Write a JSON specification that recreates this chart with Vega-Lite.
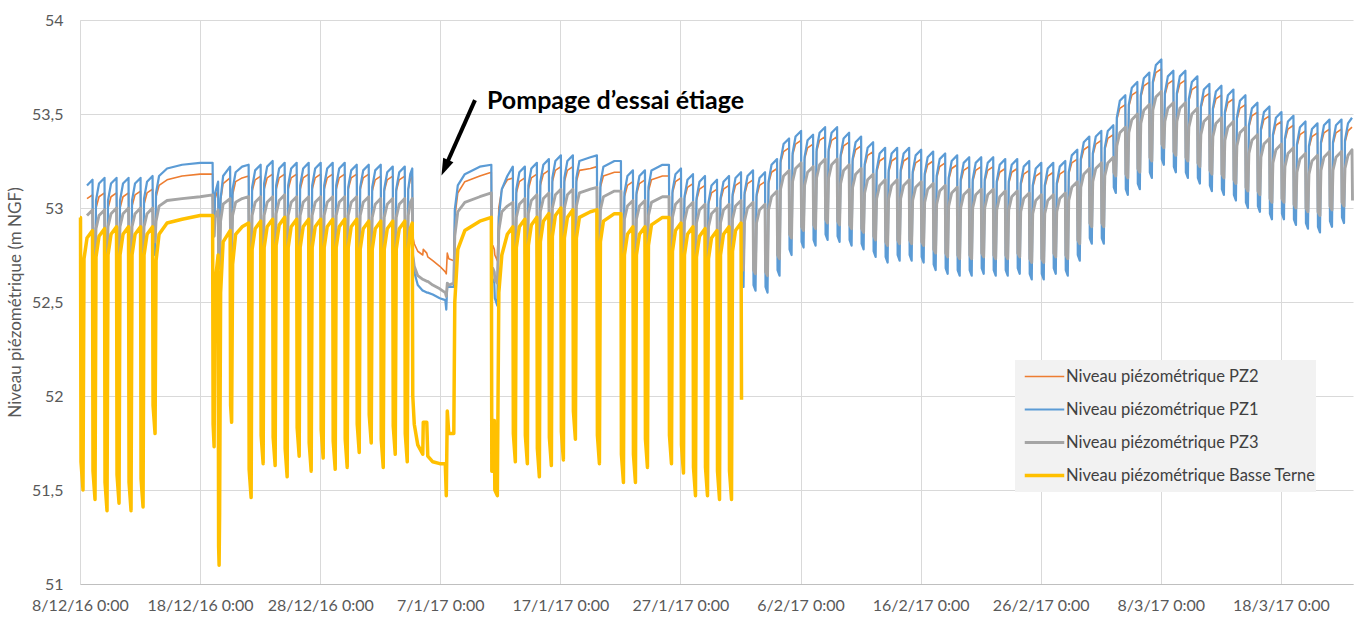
{
"$schema": "https://vega.github.io/schema/vega-lite/v6.json",
"width": 1273, "height": 564,
"autosize": {"type": "none"},
"padding": {"left": 80, "top": 20, "right": 9, "bottom": 33},
"background": "white",
"config": {"view": {"stroke": null}, "font": "Lato"},
"datasets": {"n": [
{"t":"2016-12-08T00:00","y":52.95},
{"t":"2016-12-08T01:00","y":52.95},
{"t":"2016-12-08T02:00","y":51.65},
{"t":"2016-12-08T06:00","y":51.5},
{"t":"2016-12-08T08:00","y":52.73},
{"t":"2016-12-08T14:00","o":53.05,"b":53.12,"g":52.96,"y":52.84},
{"t":"2016-12-09T01:00","o":53.07,"b":53.15,"g":52.99,"y":52.88},
{"t":"2016-12-09T02:00","o":52.77,"b":52.58,"g":52.76,"y":51.6},
{"t":"2016-12-09T06:00","o":52.72,"b":52.53,"g":52.72,"y":51.45},
{"t":"2016-12-09T08:00","o":53.0,"b":53.04,"g":52.89,"y":52.74},
{"t":"2016-12-09T14:00","o":53.06,"b":53.13,"g":52.96,"y":52.85},
{"t":"2016-12-10T01:00","o":53.08,"b":53.16,"g":52.99,"y":52.89},
{"t":"2016-12-10T02:00","o":52.75,"b":52.51,"g":52.74,"y":51.54},
{"t":"2016-12-10T06:00","o":52.7,"b":52.46,"g":52.7,"y":51.39},
{"t":"2016-12-10T08:00","o":53.0,"b":53.04,"g":52.9,"y":52.75},
{"t":"2016-12-10T14:00","o":53.06,"b":53.13,"g":52.97,"y":52.86},
{"t":"2016-12-11T01:00","o":53.08,"b":53.16,"g":53.0,"y":52.9},
{"t":"2016-12-11T02:00","o":52.77,"b":52.56,"g":52.76,"y":51.58},
{"t":"2016-12-11T06:00","o":52.72,"b":52.51,"g":52.72,"y":51.43},
{"t":"2016-12-11T08:00","o":53.0,"b":53.04,"g":52.9,"y":52.75},
{"t":"2016-12-11T14:00","o":53.06,"b":53.13,"g":52.97,"y":52.86},
{"t":"2016-12-12T01:00","o":53.08,"b":53.16,"g":53.0,"y":52.9},
{"t":"2016-12-12T02:00","o":52.75,"b":52.51,"g":52.74,"y":51.54},
{"t":"2016-12-12T06:00","o":52.7,"b":52.46,"g":52.7,"y":51.39},
{"t":"2016-12-12T08:00","o":53.01,"b":53.04,"g":52.9,"y":52.75},
{"t":"2016-12-12T14:00","o":53.07,"b":53.13,"g":52.97,"y":52.86},
{"t":"2016-12-13T01:00","o":53.09,"b":53.16,"g":53.0,"y":52.9},
{"t":"2016-12-13T02:00","o":52.77,"b":52.54,"g":52.76,"y":51.56},
{"t":"2016-12-13T06:00","o":52.72,"b":52.49,"g":52.72,"y":51.41},
{"t":"2016-12-13T08:00","o":53.02,"b":53.05,"g":52.9,"y":52.75},
{"t":"2016-12-13T14:00","o":53.08,"b":53.14,"g":52.97,"y":52.86},
{"t":"2016-12-14T01:00","o":53.1,"b":53.17,"g":53.0,"y":52.9},
{"t":"2016-12-14T02:00","o":52.9,"b":52.8,"g":52.86,"y":51.95},
{"t":"2016-12-14T06:00","o":52.85,"b":52.75,"g":52.82,"y":51.8},
{"t":"2016-12-14T08:00","o":53.06,"b":53.08,"g":52.93,"y":52.72},
{"t":"2016-12-14T14:00","o":53.12,"b":53.17,"g":53.01,"y":52.86},
{"t":"2016-12-15T06:00","o":53.15,"b":53.21,"g":53.04,"y":52.92},
{"t":"2016-12-16T12:00","o":53.17,"b":53.23,"g":53.05,"y":52.94},
{"t":"2016-12-18T00:00","o":53.18,"b":53.24,"g":53.06,"y":52.96},
{"t":"2016-12-19T01:00","o":53.18,"b":53.24,"g":53.07,"y":52.96},
{"t":"2016-12-19T02:00","o":52.95,"b":52.9,"g":52.88,"y":51.85},
{"t":"2016-12-19T04:00","o":52.9,"b":52.85,"g":52.85,"y":51.73},
{"t":"2016-12-19T06:00","o":53.05,"b":53.08,"g":52.95,"y":52.6},
{"t":"2016-12-19T12:00","o":53.1,"b":53.14,"g":52.99,"y":52.75},
{"t":"2016-12-19T13:00","o":52.8,"b":52.75,"g":52.72,"y":51.2},
{"t":"2016-12-19T14:00","o":52.78,"b":52.68,"g":52.68,"y":51.1},
{"t":"2016-12-19T15:00","o":52.8,"b":52.7,"g":52.7,"y":51.38},
{"t":"2016-12-19T17:00","o":53.04,"b":53.05,"g":52.93,"y":52.55},
{"t":"2016-12-19T22:00","o":53.13,"b":53.17,"g":53.02,"y":52.82},
{"t":"2016-12-20T12:00","o":53.16,"b":53.22,"g":53.05,"y":52.88},
{"t":"2016-12-20T13:00","o":52.85,"b":52.75,"g":52.78,"y":51.95},
{"t":"2016-12-20T15:00","o":52.82,"b":52.7,"g":52.75,"y":51.86},
{"t":"2016-12-20T17:00","o":53.07,"b":53.1,"g":52.96,"y":52.7},
{"t":"2016-12-20T23:00","o":53.14,"b":53.19,"g":53.03,"y":52.86},
{"t":"2016-12-21T12:00","o":53.16,"b":53.22,"g":53.05,"y":52.9},
{"t":"2016-12-22T01:00","o":53.17,"b":53.23,"g":53.06,"y":52.92},
{"t":"2016-12-22T02:00","o":52.77,"b":52.6,"g":52.72,"y":51.61},
{"t":"2016-12-22T06:00","o":52.72,"b":52.55,"g":52.68,"y":51.46},
{"t":"2016-12-22T08:00","o":53.09,"b":53.11,"g":52.96,"y":52.78},
{"t":"2016-12-22T14:00","o":53.15,"b":53.2,"g":53.03,"y":52.89},
{"t":"2016-12-23T01:00","o":53.17,"b":53.23,"g":53.06,"y":52.93},
{"t":"2016-12-23T02:00","o":52.8,"b":52.67,"g":52.76,"y":51.79},
{"t":"2016-12-23T06:00","o":52.75,"b":52.62,"g":52.72,"y":51.64},
{"t":"2016-12-23T08:00","o":53.1,"b":53.13,"g":52.96,"y":52.79},
{"t":"2016-12-23T14:00","o":53.16,"b":53.22,"g":53.03,"y":52.9},
{"t":"2016-12-24T01:00","o":53.18,"b":53.25,"g":53.06,"y":52.94},
{"t":"2016-12-24T02:00","o":52.8,"b":52.67,"g":52.76,"y":51.78},
{"t":"2016-12-24T06:00","o":52.75,"b":52.62,"g":52.72,"y":51.63},
{"t":"2016-12-24T08:00","o":53.1,"b":53.12,"g":52.97,"y":52.8},
{"t":"2016-12-24T14:00","o":53.16,"b":53.21,"g":53.04,"y":52.91},
{"t":"2016-12-25T01:00","o":53.18,"b":53.24,"g":53.07,"y":52.95},
{"t":"2016-12-25T02:00","o":52.8,"b":52.65,"g":52.74,"y":51.72},
{"t":"2016-12-25T06:00","o":52.75,"b":52.6,"g":52.7,"y":51.57},
{"t":"2016-12-25T08:00","o":53.1,"b":53.12,"g":52.96,"y":52.79},
{"t":"2016-12-25T14:00","o":53.16,"b":53.21,"g":53.03,"y":52.9},
{"t":"2016-12-26T01:00","o":53.18,"b":53.24,"g":53.06,"y":52.94},
{"t":"2016-12-26T02:00","o":52.8,"b":52.67,"g":52.76,"y":51.83},
{"t":"2016-12-26T06:00","o":52.75,"b":52.62,"g":52.72,"y":51.68},
{"t":"2016-12-26T08:00","o":53.1,"b":53.12,"g":52.96,"y":52.79},
{"t":"2016-12-26T14:00","o":53.16,"b":53.21,"g":53.03,"y":52.9},
{"t":"2016-12-27T01:00","o":53.18,"b":53.24,"g":53.06,"y":52.94},
{"t":"2016-12-27T02:00","o":52.8,"b":52.65,"g":52.74,"y":51.75},
{"t":"2016-12-27T06:00","o":52.75,"b":52.6,"g":52.7,"y":51.6},
{"t":"2016-12-27T08:00","o":53.1,"b":53.12,"g":52.96,"y":52.79},
{"t":"2016-12-27T14:00","o":53.16,"b":53.21,"g":53.03,"y":52.9},
{"t":"2016-12-28T01:00","o":53.18,"b":53.24,"g":53.06,"y":52.94},
{"t":"2016-12-28T02:00","o":52.8,"b":52.68,"g":52.77,"y":51.82},
{"t":"2016-12-28T06:00","o":52.75,"b":52.63,"g":52.73,"y":51.67},
{"t":"2016-12-28T08:00","o":53.1,"b":53.12,"g":52.96,"y":52.79},
{"t":"2016-12-28T14:00","o":53.16,"b":53.21,"g":53.03,"y":52.9},
{"t":"2016-12-29T01:00","o":53.18,"b":53.24,"g":53.06,"y":52.94},
{"t":"2016-12-29T02:00","o":52.8,"b":52.65,"g":52.74,"y":51.76},
{"t":"2016-12-29T06:00","o":52.75,"b":52.6,"g":52.7,"y":51.61},
{"t":"2016-12-29T08:00","o":53.1,"b":53.12,"g":52.96,"y":52.79},
{"t":"2016-12-29T14:00","o":53.16,"b":53.21,"g":53.03,"y":52.9},
{"t":"2016-12-30T01:00","o":53.18,"b":53.24,"g":53.06,"y":52.94},
{"t":"2016-12-30T02:00","o":52.8,"b":52.67,"g":52.76,"y":51.77},
{"t":"2016-12-30T06:00","o":52.75,"b":52.62,"g":52.72,"y":51.62},
{"t":"2016-12-30T08:00","o":53.1,"b":53.11,"g":52.96,"y":52.79},
{"t":"2016-12-30T14:00","o":53.16,"b":53.2,"g":53.03,"y":52.9},
{"t":"2016-12-31T01:00","o":53.18,"b":53.23,"g":53.06,"y":52.94},
{"t":"2016-12-31T02:00","o":52.8,"b":52.67,"g":52.76,"y":51.85},
{"t":"2016-12-31T06:00","o":52.75,"b":52.62,"g":52.72,"y":51.7},
{"t":"2016-12-31T08:00","o":53.1,"b":53.11,"g":52.96,"y":52.78},
{"t":"2016-12-31T14:00","o":53.16,"b":53.2,"g":53.03,"y":52.89},
{"t":"2017-01-01T01:00","o":53.18,"b":53.23,"g":53.06,"y":52.93},
{"t":"2017-01-01T02:00","o":52.8,"b":52.68,"g":52.77,"y":51.9},
{"t":"2017-01-01T06:00","o":52.75,"b":52.63,"g":52.73,"y":51.75},
{"t":"2017-01-01T08:00","o":53.09,"b":53.11,"g":52.95,"y":52.78},
{"t":"2017-01-01T14:00","o":53.15,"b":53.2,"g":53.02,"y":52.89},
{"t":"2017-01-02T01:00","o":53.17,"b":53.23,"g":53.05,"y":52.93},
{"t":"2017-01-02T02:00","o":52.8,"b":52.65,"g":52.74,"y":51.77},
{"t":"2017-01-02T06:00","o":52.75,"b":52.6,"g":52.7,"y":51.62},
{"t":"2017-01-02T08:00","o":53.09,"b":53.1,"g":52.95,"y":52.78},
{"t":"2017-01-02T14:00","o":53.15,"b":53.19,"g":53.02,"y":52.89},
{"t":"2017-01-03T01:00","o":53.17,"b":53.22,"g":53.05,"y":52.93},
{"t":"2017-01-03T02:00","o":52.8,"b":52.67,"g":52.76,"y":51.84},
{"t":"2017-01-03T06:00","o":52.75,"b":52.62,"g":52.72,"y":51.69},
{"t":"2017-01-03T08:00","o":53.09,"b":53.1,"g":52.95,"y":52.78},
{"t":"2017-01-03T14:00","o":53.15,"b":53.19,"g":53.02,"y":52.89},
{"t":"2017-01-04T01:00","o":53.17,"b":53.22,"g":53.05,"y":52.93},
{"t":"2017-01-04T02:00","o":52.8,"b":52.67,"g":52.76,"y":51.8},
{"t":"2017-01-04T06:00","o":52.75,"b":52.62,"g":52.72,"y":51.65},
{"t":"2017-01-04T08:00","o":53.1,"b":53.1,"g":52.96,"y":52.78},
{"t":"2017-01-04T12:00","o":53.15,"b":53.18,"g":53.03,"y":52.89},
{"t":"2017-01-04T16:00","o":53.17,"b":53.21,"g":53.05,"y":52.92},
{"t":"2017-01-04T17:00","o":52.85,"b":52.75,"g":52.75,"y":52.0},
{"t":"2017-01-04T20:00","o":52.81,"b":52.66,"g":52.69,"y":51.85},
{"t":"2017-01-05T03:00","o":52.77,"b":52.59,"g":52.64,"y":51.74},
{"t":"2017-01-05T13:00","o":52.75,"b":52.56,"g":52.62,"y":51.69},
{"t":"2017-01-05T14:00","o":52.78,"b":52.56,"g":52.62,"y":51.86},
{"t":"2017-01-05T21:00","o":52.76,"b":52.55,"g":52.61,"y":51.86},
{"t":"2017-01-05T23:00","o":52.74,"b":52.55,"g":52.61,"y":51.68},
{"t":"2017-01-06T09:00","o":52.72,"b":52.54,"g":52.59,"y":51.65},
{"t":"2017-01-06T23:00","o":52.69,"b":52.52,"g":52.57,"y":51.64},
{"t":"2017-01-07T10:00","o":52.66,"b":52.51,"g":52.55,"y":51.64},
{"t":"2017-01-07T12:00","o":52.65,"b":52.46,"g":52.53,"y":51.47},
{"t":"2017-01-07T14:00","o":52.76,"b":52.6,"g":52.6,"y":51.92},
{"t":"2017-01-07T17:00","o":52.73,"b":52.58,"g":52.59,"y":51.8},
{"t":"2017-01-08T03:00","o":52.72,"b":52.58,"g":52.6,"y":51.8},
{"t":"2017-01-08T05:00","o":52.95,"b":52.99,"g":52.85,"y":52.5},
{"t":"2017-01-08T11:00","o":53.08,"b":53.12,"g":52.98,"y":52.78},
{"t":"2017-01-09T01:00","o":53.14,"b":53.18,"g":53.03,"y":52.88},
{"t":"2017-01-10T07:00","o":53.17,"b":53.22,"g":53.06,"y":52.93},
{"t":"2017-01-11T06:00","o":53.19,"b":53.23,"g":53.08,"y":52.95},
{"t":"2017-01-11T07:00","o":52.8,"b":52.6,"g":52.68,"y":51.6},
{"t":"2017-01-11T09:00","o":52.8,"b":52.62,"g":52.68,"y":51.87},
{"t":"2017-01-11T12:00","o":52.78,"b":52.6,"g":52.66,"y":51.87},
{"t":"2017-01-11T13:00","o":52.75,"b":52.52,"g":52.62,"y":51.5},
{"t":"2017-01-11T18:00","o":52.72,"b":52.48,"g":52.6,"y":51.47},
{"t":"2017-01-11T21:00","o":53.0,"b":52.95,"g":52.88,"y":52.55},
{"t":"2017-01-12T03:00","o":53.1,"b":53.1,"g":52.98,"y":52.75},
{"t":"2017-01-12T14:00","o":53.15,"b":53.17,"g":53.01,"y":52.86},
{"t":"2017-01-13T01:00","o":53.16,"b":53.22,"g":53.03,"y":52.9},
{"t":"2017-01-13T02:00","o":52.77,"b":52.65,"g":52.74,"y":51.8},
{"t":"2017-01-13T06:00","o":52.72,"b":52.6,"g":52.7,"y":51.65},
{"t":"2017-01-13T08:00","o":53.08,"b":53.1,"g":52.95,"y":52.79},
{"t":"2017-01-13T14:00","o":53.14,"b":53.19,"g":53.02,"y":52.9},
{"t":"2017-01-14T01:00","o":53.16,"b":53.22,"g":53.05,"y":52.94},
{"t":"2017-01-14T02:00","o":52.77,"b":52.65,"g":52.74,"y":51.79},
{"t":"2017-01-14T06:00","o":52.72,"b":52.6,"g":52.7,"y":51.64},
{"t":"2017-01-14T08:00","o":53.1,"b":53.12,"g":52.97,"y":52.8},
{"t":"2017-01-14T14:00","o":53.16,"b":53.21,"g":53.04,"y":52.91},
{"t":"2017-01-15T01:00","o":53.18,"b":53.24,"g":53.07,"y":52.95},
{"t":"2017-01-15T02:00","o":52.77,"b":52.65,"g":52.74,"y":51.72},
{"t":"2017-01-15T06:00","o":52.72,"b":52.6,"g":52.7,"y":51.57},
{"t":"2017-01-15T08:00","o":53.12,"b":53.14,"g":52.98,"y":52.82},
{"t":"2017-01-15T14:00","o":53.18,"b":53.23,"g":53.05,"y":52.93},
{"t":"2017-01-16T01:00","o":53.2,"b":53.26,"g":53.08,"y":52.97},
{"t":"2017-01-16T02:00","o":52.77,"b":52.65,"g":52.74,"y":51.78},
{"t":"2017-01-16T06:00","o":52.72,"b":52.6,"g":52.7,"y":51.63},
{"t":"2017-01-16T08:00","o":53.14,"b":53.16,"g":53.0,"y":52.85},
{"t":"2017-01-16T14:00","o":53.2,"b":53.25,"g":53.07,"y":52.96},
{"t":"2017-01-17T01:00","o":53.22,"b":53.28,"g":53.1,"y":53.0},
{"t":"2017-01-17T02:00","o":52.77,"b":52.65,"g":52.74,"y":51.81},
{"t":"2017-01-17T06:00","o":52.72,"b":52.6,"g":52.7,"y":51.66},
{"t":"2017-01-17T08:00","o":53.14,"b":53.16,"g":53.0,"y":52.84},
{"t":"2017-01-17T14:00","o":53.2,"b":53.25,"g":53.07,"y":52.95},
{"t":"2017-01-18T01:00","o":53.22,"b":53.28,"g":53.1,"y":52.99},
{"t":"2017-01-18T02:00","o":52.8,"b":52.7,"g":52.76,"y":51.92},
{"t":"2017-01-18T06:00","o":52.75,"b":52.65,"g":52.72,"y":51.77},
{"t":"2017-01-18T08:00","o":53.14,"b":53.16,"g":53.01,"y":52.84},
{"t":"2017-01-18T14:00","o":53.2,"b":53.25,"g":53.08,"y":52.95},
{"t":"2017-01-19T12:00","o":53.21,"b":53.27,"g":53.1,"y":52.98},
{"t":"2017-01-20T01:00","o":53.22,"b":53.28,"g":53.11,"y":52.99},
{"t":"2017-01-20T02:00","o":52.77,"b":52.65,"g":52.74,"y":51.79},
{"t":"2017-01-20T06:00","o":52.72,"b":52.6,"g":52.7,"y":51.64},
{"t":"2017-01-20T08:00","o":53.11,"b":53.13,"g":52.99,"y":52.82},
{"t":"2017-01-20T14:00","o":53.17,"b":53.22,"g":53.06,"y":52.93},
{"t":"2017-01-21T12:00","o":53.19,"b":53.25,"g":53.09,"y":52.97},
{"t":"2017-01-22T01:00","o":53.19,"b":53.25,"g":53.09,"y":52.97},
{"t":"2017-01-22T02:00","o":52.75,"b":52.65,"g":52.72,"y":51.69},
{"t":"2017-01-22T06:00","o":52.7,"b":52.6,"g":52.68,"y":51.54},
{"t":"2017-01-22T08:00","o":53.06,"b":53.08,"g":52.94,"y":52.75},
{"t":"2017-01-22T14:00","o":53.12,"b":53.17,"g":53.01,"y":52.86},
{"t":"2017-01-23T01:00","o":53.14,"b":53.2,"g":53.04,"y":52.9},
{"t":"2017-01-23T02:00","o":52.77,"b":52.67,"g":52.74,"y":51.69},
{"t":"2017-01-23T06:00","o":52.72,"b":52.62,"g":52.7,"y":51.54},
{"t":"2017-01-23T08:00","o":53.07,"b":53.08,"g":52.94,"y":52.75},
{"t":"2017-01-23T14:00","o":53.13,"b":53.17,"g":53.01,"y":52.86},
{"t":"2017-01-24T01:00","o":53.15,"b":53.2,"g":53.04,"y":52.9},
{"t":"2017-01-24T02:00","o":52.77,"b":52.67,"g":52.74,"y":51.77},
{"t":"2017-01-24T06:00","o":52.72,"b":52.62,"g":52.7,"y":51.62},
{"t":"2017-01-24T08:00","o":53.09,"b":53.11,"g":52.96,"y":52.8},
{"t":"2017-01-24T14:00","o":53.15,"b":53.2,"g":53.03,"y":52.91},
{"t":"2017-01-25T12:00","o":53.17,"b":53.23,"g":53.06,"y":52.95},
{"t":"2017-01-26T01:00","o":53.17,"b":53.23,"g":53.06,"y":52.95},
{"t":"2017-01-26T02:00","o":52.77,"b":52.67,"g":52.74,"y":51.79},
{"t":"2017-01-26T06:00","o":52.72,"b":52.62,"g":52.7,"y":51.64},
{"t":"2017-01-26T08:00","o":53.08,"b":53.09,"g":52.95,"y":52.77},
{"t":"2017-01-26T14:00","o":53.14,"b":53.18,"g":53.02,"y":52.88},
{"t":"2017-01-27T01:00","o":53.16,"b":53.21,"g":53.05,"y":52.92},
{"t":"2017-01-27T02:00","o":52.77,"b":52.71,"g":52.76,"y":51.74},
{"t":"2017-01-27T06:00","o":52.72,"b":52.66,"g":52.72,"y":51.59},
{"t":"2017-01-27T08:00","o":53.05,"b":53.06,"g":52.93,"y":52.75},
{"t":"2017-01-27T14:00","o":53.11,"b":53.15,"g":53.0,"y":52.86},
{"t":"2017-01-28T01:00","o":53.13,"b":53.18,"g":53.03,"y":52.9},
{"t":"2017-01-28T02:00","o":52.75,"b":52.65,"g":52.72,"y":51.62},
{"t":"2017-01-28T06:00","o":52.7,"b":52.6,"g":52.68,"y":51.47},
{"t":"2017-01-28T08:00","o":53.04,"b":53.05,"g":52.92,"y":52.74},
{"t":"2017-01-28T14:00","o":53.1,"b":53.14,"g":52.99,"y":52.85},
{"t":"2017-01-29T01:00","o":53.12,"b":53.17,"g":53.02,"y":52.89},
{"t":"2017-01-29T02:00","o":52.75,"b":52.55,"g":52.69,"y":51.62},
{"t":"2017-01-29T06:00","o":52.7,"b":52.5,"g":52.65,"y":51.47},
{"t":"2017-01-29T08:00","o":53.02,"b":53.03,"g":52.9,"y":52.73},
{"t":"2017-01-29T14:00","o":53.08,"b":53.12,"g":52.97,"y":52.84},
{"t":"2017-01-30T01:00","o":53.1,"b":53.15,"g":53.0,"y":52.88},
{"t":"2017-01-30T02:00","o":52.75,"b":52.61,"g":52.7,"y":51.6},
{"t":"2017-01-30T06:00","o":52.7,"b":52.56,"g":52.66,"y":51.45},
{"t":"2017-01-30T08:00","o":53.04,"b":53.05,"g":52.92,"y":52.75},
{"t":"2017-01-30T14:00","o":53.1,"b":53.14,"g":52.99,"y":52.86},
{"t":"2017-01-31T01:00","o":53.12,"b":53.17,"g":53.02,"y":52.9},
{"t":"2017-01-31T02:00","o":52.73,"b":52.58,"g":52.68,"y":51.6},
{"t":"2017-01-31T06:00","o":52.68,"b":52.53,"g":52.64,"y":51.45},
{"t":"2017-01-31T08:00","o":53.06,"b":53.07,"g":52.94,"y":52.77},
{"t":"2017-01-31T14:00","o":53.12,"b":53.16,"g":53.01,"y":52.88},
{"t":"2017-02-01T01:00","o":53.14,"b":53.19,"g":53.04,"y":52.92},
{"t":"2017-02-01T02:00","o":52.75,"b":52.63,"g":52.71,"y":51.98},
{"t":"2017-02-01T06:00","o":52.7,"b":52.58,"g":52.67},
{"t":"2017-02-01T08:00","o":53.07,"b":53.08,"g":52.93},
{"t":"2017-02-01T14:00","o":53.13,"b":53.17,"g":53.0},
{"t":"2017-02-02T01:00","o":53.15,"b":53.2,"g":53.03},
{"t":"2017-02-02T02:00","o":52.73,"b":52.59,"g":52.67},
{"t":"2017-02-02T06:00","o":52.68,"b":52.56,"g":52.65},
{"t":"2017-02-02T08:00","o":53.06,"b":53.07,"g":52.92},
{"t":"2017-02-02T14:00","o":53.12,"b":53.16,"g":52.99},
{"t":"2017-02-03T01:00","o":53.14,"b":53.19,"g":53.02},
{"t":"2017-02-03T02:00","o":52.72,"b":52.58,"g":52.66},
{"t":"2017-02-03T06:00","o":52.67,"b":52.55,"g":52.64},
{"t":"2017-02-03T08:00","o":53.13,"b":53.14,"g":52.99},
{"t":"2017-02-03T14:00","o":53.19,"b":53.23,"g":53.06},
{"t":"2017-02-04T01:00","o":53.21,"b":53.26,"g":53.09},
{"t":"2017-02-04T02:00","o":52.81,"b":52.67,"g":52.75},
{"t":"2017-02-04T06:00","o":52.76,"b":52.64,"g":52.73},
{"t":"2017-02-04T08:00","o":53.24,"b":53.25,"g":53.1},
{"t":"2017-02-04T14:00","o":53.3,"b":53.34,"g":53.17},
{"t":"2017-02-05T01:00","o":53.32,"b":53.37,"g":53.2},
{"t":"2017-02-05T02:00","o":52.92,"b":52.78,"g":52.86},
{"t":"2017-02-05T06:00","o":52.87,"b":52.75,"g":52.84},
{"t":"2017-02-05T08:00","o":53.28,"b":53.29,"g":53.14},
{"t":"2017-02-05T14:00","o":53.34,"b":53.38,"g":53.21},
{"t":"2017-02-06T01:00","o":53.36,"b":53.41,"g":53.24},
{"t":"2017-02-06T02:00","o":52.96,"b":52.82,"g":52.9},
{"t":"2017-02-06T06:00","o":52.91,"b":52.79,"g":52.88},
{"t":"2017-02-06T08:00","o":53.26,"b":53.27,"g":53.12},
{"t":"2017-02-06T14:00","o":53.32,"b":53.36,"g":53.19},
{"t":"2017-02-07T01:00","o":53.34,"b":53.39,"g":53.22},
{"t":"2017-02-07T02:00","o":52.97,"b":52.83,"g":52.91},
{"t":"2017-02-07T06:00","o":52.92,"b":52.8,"g":52.89},
{"t":"2017-02-07T08:00","o":53.3,"b":53.31,"g":53.16},
{"t":"2017-02-07T14:00","o":53.36,"b":53.4,"g":53.23},
{"t":"2017-02-08T01:00","o":53.38,"b":53.43,"g":53.26},
{"t":"2017-02-08T02:00","o":53.0,"b":52.86,"g":52.94},
{"t":"2017-02-08T06:00","o":52.95,"b":52.83,"g":52.92},
{"t":"2017-02-08T08:00","o":53.3,"b":53.31,"g":53.16},
{"t":"2017-02-08T14:00","o":53.36,"b":53.4,"g":53.23},
{"t":"2017-02-09T01:00","o":53.38,"b":53.43,"g":53.26},
{"t":"2017-02-09T02:00","o":52.99,"b":52.85,"g":52.93},
{"t":"2017-02-09T06:00","o":52.94,"b":52.82,"g":52.91},
{"t":"2017-02-09T08:00","o":53.27,"b":53.28,"g":53.13},
{"t":"2017-02-09T14:00","o":53.33,"b":53.37,"g":53.2},
{"t":"2017-02-10T01:00","o":53.35,"b":53.4,"g":53.23},
{"t":"2017-02-10T02:00","o":52.97,"b":52.83,"g":52.91},
{"t":"2017-02-10T06:00","o":52.92,"b":52.8,"g":52.89},
{"t":"2017-02-10T08:00","o":53.25,"b":53.26,"g":53.11},
{"t":"2017-02-10T14:00","o":53.31,"b":53.35,"g":53.18},
{"t":"2017-02-11T01:00","o":53.33,"b":53.38,"g":53.21},
{"t":"2017-02-11T02:00","o":52.95,"b":52.81,"g":52.89},
{"t":"2017-02-11T06:00","o":52.9,"b":52.78,"g":52.87},
{"t":"2017-02-11T08:00","o":53.22,"b":53.23,"g":53.08},
{"t":"2017-02-11T14:00","o":53.28,"b":53.32,"g":53.15},
{"t":"2017-02-12T01:00","o":53.3,"b":53.35,"g":53.18},
{"t":"2017-02-12T02:00","o":52.91,"b":52.77,"g":52.85},
{"t":"2017-02-12T06:00","o":52.86,"b":52.74,"g":52.83},
{"t":"2017-02-12T08:00","o":53.19,"b":53.2,"g":53.05},
{"t":"2017-02-12T14:00","o":53.25,"b":53.29,"g":53.12},
{"t":"2017-02-13T01:00","o":53.27,"b":53.32,"g":53.15},
{"t":"2017-02-13T02:00","o":52.88,"b":52.74,"g":52.82},
{"t":"2017-02-13T06:00","o":52.83,"b":52.71,"g":52.8},
{"t":"2017-02-13T08:00","o":53.19,"b":53.2,"g":53.05},
{"t":"2017-02-13T14:00","o":53.25,"b":53.29,"g":53.12},
{"t":"2017-02-14T01:00","o":53.27,"b":53.32,"g":53.15},
{"t":"2017-02-14T02:00","o":52.89,"b":52.75,"g":52.83},
{"t":"2017-02-14T06:00","o":52.84,"b":52.72,"g":52.81},
{"t":"2017-02-14T08:00","o":53.19,"b":53.2,"g":53.05},
{"t":"2017-02-14T14:00","o":53.25,"b":53.29,"g":53.12},
{"t":"2017-02-15T01:00","o":53.27,"b":53.32,"g":53.15},
{"t":"2017-02-15T02:00","o":52.89,"b":52.75,"g":52.83},
{"t":"2017-02-15T06:00","o":52.84,"b":52.72,"g":52.81},
{"t":"2017-02-15T08:00","o":53.18,"b":53.19,"g":53.04},
{"t":"2017-02-15T14:00","o":53.24,"b":53.28,"g":53.11},
{"t":"2017-02-16T01:00","o":53.26,"b":53.31,"g":53.14},
{"t":"2017-02-16T02:00","o":52.88,"b":52.74,"g":52.82},
{"t":"2017-02-16T06:00","o":52.83,"b":52.71,"g":52.8},
{"t":"2017-02-16T08:00","o":53.17,"b":53.18,"g":53.03},
{"t":"2017-02-16T14:00","o":53.23,"b":53.27,"g":53.1},
{"t":"2017-02-17T01:00","o":53.25,"b":53.3,"g":53.13},
{"t":"2017-02-17T02:00","o":52.84,"b":52.7,"g":52.78},
{"t":"2017-02-17T06:00","o":52.79,"b":52.67,"g":52.76},
{"t":"2017-02-17T08:00","o":53.16,"b":53.17,"g":53.02},
{"t":"2017-02-17T14:00","o":53.22,"b":53.26,"g":53.09},
{"t":"2017-02-18T01:00","o":53.24,"b":53.29,"g":53.12},
{"t":"2017-02-18T02:00","o":52.82,"b":52.68,"g":52.76},
{"t":"2017-02-18T06:00","o":52.77,"b":52.65,"g":52.74},
{"t":"2017-02-18T08:00","o":53.15,"b":53.16,"g":53.01},
{"t":"2017-02-18T14:00","o":53.21,"b":53.25,"g":53.08},
{"t":"2017-02-19T01:00","o":53.23,"b":53.28,"g":53.11},
{"t":"2017-02-19T02:00","o":52.81,"b":52.67,"g":52.75},
{"t":"2017-02-19T06:00","o":52.76,"b":52.64,"g":52.73},
{"t":"2017-02-19T08:00","o":53.14,"b":53.15,"g":53.0},
{"t":"2017-02-19T14:00","o":53.2,"b":53.24,"g":53.07},
{"t":"2017-02-20T01:00","o":53.22,"b":53.27,"g":53.1},
{"t":"2017-02-20T02:00","o":52.81,"b":52.67,"g":52.75},
{"t":"2017-02-20T06:00","o":52.76,"b":52.64,"g":52.73},
{"t":"2017-02-20T08:00","o":53.14,"b":53.15,"g":53.0},
{"t":"2017-02-20T14:00","o":53.2,"b":53.24,"g":53.07},
{"t":"2017-02-21T01:00","o":53.22,"b":53.27,"g":53.1},
{"t":"2017-02-21T02:00","o":52.82,"b":52.68,"g":52.76},
{"t":"2017-02-21T06:00","o":52.77,"b":52.65,"g":52.74},
{"t":"2017-02-21T08:00","o":53.14,"b":53.15,"g":53.0},
{"t":"2017-02-21T14:00","o":53.2,"b":53.24,"g":53.07},
{"t":"2017-02-22T01:00","o":53.22,"b":53.27,"g":53.1},
{"t":"2017-02-22T02:00","o":52.81,"b":52.67,"g":52.75},
{"t":"2017-02-22T06:00","o":52.76,"b":52.64,"g":52.73},
{"t":"2017-02-22T08:00","o":53.13,"b":53.14,"g":52.99},
{"t":"2017-02-22T14:00","o":53.19,"b":53.23,"g":53.06},
{"t":"2017-02-23T01:00","o":53.21,"b":53.26,"g":53.09},
{"t":"2017-02-23T02:00","o":52.81,"b":52.67,"g":52.75},
{"t":"2017-02-23T06:00","o":52.76,"b":52.64,"g":52.73},
{"t":"2017-02-23T08:00","o":53.13,"b":53.14,"g":52.99},
{"t":"2017-02-23T14:00","o":53.19,"b":53.23,"g":53.06},
{"t":"2017-02-24T01:00","o":53.21,"b":53.26,"g":53.09},
{"t":"2017-02-24T02:00","o":52.82,"b":52.68,"g":52.76},
{"t":"2017-02-24T06:00","o":52.77,"b":52.65,"g":52.74},
{"t":"2017-02-24T08:00","o":53.12,"b":53.13,"g":52.98},
{"t":"2017-02-24T14:00","o":53.18,"b":53.22,"g":53.05},
{"t":"2017-02-25T01:00","o":53.2,"b":53.25,"g":53.08},
{"t":"2017-02-25T02:00","o":52.79,"b":52.65,"g":52.73},
{"t":"2017-02-25T06:00","o":52.74,"b":52.62,"g":52.71},
{"t":"2017-02-25T08:00","o":53.11,"b":53.12,"g":52.97},
{"t":"2017-02-25T14:00","o":53.17,"b":53.21,"g":53.04},
{"t":"2017-02-26T01:00","o":53.19,"b":53.24,"g":53.07},
{"t":"2017-02-26T02:00","o":52.79,"b":52.65,"g":52.73},
{"t":"2017-02-26T06:00","o":52.74,"b":52.62,"g":52.71},
{"t":"2017-02-26T08:00","o":53.11,"b":53.12,"g":52.97},
{"t":"2017-02-26T14:00","o":53.17,"b":53.21,"g":53.04},
{"t":"2017-02-27T01:00","o":53.19,"b":53.24,"g":53.07},
{"t":"2017-02-27T02:00","o":52.82,"b":52.68,"g":52.76},
{"t":"2017-02-27T06:00","o":52.77,"b":52.65,"g":52.74},
{"t":"2017-02-27T08:00","o":53.12,"b":53.13,"g":52.98},
{"t":"2017-02-27T14:00","o":53.18,"b":53.22,"g":53.05},
{"t":"2017-02-28T01:00","o":53.2,"b":53.25,"g":53.08},
{"t":"2017-02-28T02:00","o":52.81,"b":52.67,"g":52.75},
{"t":"2017-02-28T06:00","o":52.76,"b":52.64,"g":52.73},
{"t":"2017-02-28T08:00","o":53.18,"b":53.19,"g":53.04},
{"t":"2017-02-28T14:00","o":53.24,"b":53.28,"g":53.11},
{"t":"2017-03-01T01:00","o":53.26,"b":53.31,"g":53.14},
{"t":"2017-03-01T02:00","o":52.89,"b":52.75,"g":52.83},
{"t":"2017-03-01T06:00","o":52.84,"b":52.72,"g":52.81},
{"t":"2017-03-01T08:00","o":53.25,"b":53.26,"g":53.11},
{"t":"2017-03-01T14:00","o":53.31,"b":53.35,"g":53.18},
{"t":"2017-03-02T01:00","o":53.33,"b":53.38,"g":53.21},
{"t":"2017-03-02T02:00","o":52.98,"b":52.84,"g":52.92},
{"t":"2017-03-02T06:00","o":52.93,"b":52.81,"g":52.9},
{"t":"2017-03-02T08:00","o":53.28,"b":53.29,"g":53.14},
{"t":"2017-03-02T14:00","o":53.34,"b":53.38,"g":53.21},
{"t":"2017-03-03T01:00","o":53.36,"b":53.41,"g":53.24},
{"t":"2017-03-03T02:00","o":52.98,"b":52.84,"g":52.92},
{"t":"2017-03-03T06:00","o":52.93,"b":52.81,"g":52.9},
{"t":"2017-03-03T08:00","o":53.31,"b":53.32,"g":53.17},
{"t":"2017-03-03T14:00","o":53.37,"b":53.41,"g":53.24},
{"t":"2017-03-04T01:00","o":53.39,"b":53.44,"g":53.27},
{"t":"2017-03-04T02:00","o":53.25,"b":53.11,"g":53.19},
{"t":"2017-03-04T06:00","o":53.2,"b":53.08,"g":53.17},
{"t":"2017-03-04T08:00","o":53.47,"b":53.48,"g":53.33},
{"t":"2017-03-04T14:00","o":53.53,"b":53.57,"g":53.4},
{"t":"2017-03-05T01:00","o":53.55,"b":53.6,"g":53.43},
{"t":"2017-03-05T02:00","o":53.24,"b":53.1,"g":53.18},
{"t":"2017-03-05T06:00","o":53.19,"b":53.07,"g":53.16},
{"t":"2017-03-05T08:00","o":53.54,"b":53.55,"g":53.4},
{"t":"2017-03-05T14:00","o":53.6,"b":53.64,"g":53.47},
{"t":"2017-03-06T01:00","o":53.62,"b":53.67,"g":53.5},
{"t":"2017-03-06T02:00","o":53.27,"b":53.13,"g":53.21},
{"t":"2017-03-06T06:00","o":53.22,"b":53.1,"g":53.19},
{"t":"2017-03-06T08:00","o":53.59,"b":53.6,"g":53.45},
{"t":"2017-03-06T14:00","o":53.65,"b":53.69,"g":53.52},
{"t":"2017-03-07T01:00","o":53.67,"b":53.72,"g":53.55},
{"t":"2017-03-07T02:00","o":53.33,"b":53.19,"g":53.27},
{"t":"2017-03-07T06:00","o":53.28,"b":53.16,"g":53.25},
{"t":"2017-03-07T08:00","o":53.66,"b":53.67,"g":53.52},
{"t":"2017-03-07T14:00","o":53.72,"b":53.76,"g":53.59},
{"t":"2017-03-08T01:00","o":53.74,"b":53.79,"g":53.62},
{"t":"2017-03-08T02:00","o":53.4,"b":53.26,"g":53.34},
{"t":"2017-03-08T06:00","o":53.35,"b":53.23,"g":53.32},
{"t":"2017-03-08T08:00","o":53.6,"b":53.61,"g":53.46},
{"t":"2017-03-08T14:00","o":53.66,"b":53.7,"g":53.53},
{"t":"2017-03-09T01:00","o":53.68,"b":53.73,"g":53.56},
{"t":"2017-03-09T02:00","o":53.36,"b":53.22,"g":53.3},
{"t":"2017-03-09T06:00","o":53.31,"b":53.19,"g":53.28},
{"t":"2017-03-09T08:00","o":53.6,"b":53.61,"g":53.46},
{"t":"2017-03-09T14:00","o":53.66,"b":53.7,"g":53.53},
{"t":"2017-03-10T01:00","o":53.68,"b":53.73,"g":53.56},
{"t":"2017-03-10T02:00","o":53.33,"b":53.19,"g":53.27},
{"t":"2017-03-10T06:00","o":53.28,"b":53.16,"g":53.25},
{"t":"2017-03-10T08:00","o":53.57,"b":53.58,"g":53.43},
{"t":"2017-03-10T14:00","o":53.63,"b":53.67,"g":53.5},
{"t":"2017-03-11T01:00","o":53.65,"b":53.7,"g":53.53},
{"t":"2017-03-11T02:00","o":53.3,"b":53.16,"g":53.24},
{"t":"2017-03-11T06:00","o":53.25,"b":53.13,"g":53.22},
{"t":"2017-03-11T08:00","o":53.53,"b":53.54,"g":53.39},
{"t":"2017-03-11T14:00","o":53.59,"b":53.63,"g":53.46},
{"t":"2017-03-12T01:00","o":53.61,"b":53.66,"g":53.49},
{"t":"2017-03-12T02:00","o":53.26,"b":53.12,"g":53.2},
{"t":"2017-03-12T06:00","o":53.21,"b":53.09,"g":53.18},
{"t":"2017-03-12T08:00","o":53.52,"b":53.53,"g":53.38},
{"t":"2017-03-12T14:00","o":53.58,"b":53.62,"g":53.45},
{"t":"2017-03-13T01:00","o":53.6,"b":53.65,"g":53.48},
{"t":"2017-03-13T02:00","o":53.24,"b":53.1,"g":53.18},
{"t":"2017-03-13T06:00","o":53.19,"b":53.07,"g":53.16},
{"t":"2017-03-13T08:00","o":53.5,"b":53.51,"g":53.36},
{"t":"2017-03-13T14:00","o":53.56,"b":53.6,"g":53.43},
{"t":"2017-03-14T01:00","o":53.58,"b":53.63,"g":53.46},
{"t":"2017-03-14T02:00","o":53.21,"b":53.07,"g":53.15},
{"t":"2017-03-14T06:00","o":53.16,"b":53.04,"g":53.13},
{"t":"2017-03-14T08:00","o":53.47,"b":53.48,"g":53.33},
{"t":"2017-03-14T14:00","o":53.53,"b":53.57,"g":53.4},
{"t":"2017-03-15T01:00","o":53.55,"b":53.6,"g":53.43},
{"t":"2017-03-15T02:00","o":53.17,"b":53.03,"g":53.11},
{"t":"2017-03-15T06:00","o":53.12,"b":53.0,"g":53.09},
{"t":"2017-03-15T08:00","o":53.43,"b":53.44,"g":53.29},
{"t":"2017-03-15T14:00","o":53.49,"b":53.53,"g":53.36},
{"t":"2017-03-16T01:00","o":53.51,"b":53.56,"g":53.39},
{"t":"2017-03-16T02:00","o":53.15,"b":53.01,"g":53.09},
{"t":"2017-03-16T06:00","o":53.1,"b":52.98,"g":53.07},
{"t":"2017-03-16T08:00","o":53.41,"b":53.42,"g":53.27},
{"t":"2017-03-16T14:00","o":53.47,"b":53.51,"g":53.34},
{"t":"2017-03-17T01:00","o":53.49,"b":53.54,"g":53.37},
{"t":"2017-03-17T02:00","o":53.11,"b":52.97,"g":53.05},
{"t":"2017-03-17T06:00","o":53.06,"b":52.94,"g":53.03},
{"t":"2017-03-17T08:00","o":53.38,"b":53.39,"g":53.24},
{"t":"2017-03-17T14:00","o":53.44,"b":53.48,"g":53.31},
{"t":"2017-03-18T01:00","o":53.46,"b":53.51,"g":53.34},
{"t":"2017-03-18T02:00","o":53.11,"b":52.97,"g":53.05},
{"t":"2017-03-18T06:00","o":53.06,"b":52.94,"g":53.03},
{"t":"2017-03-18T08:00","o":53.36,"b":53.37,"g":53.22},
{"t":"2017-03-18T14:00","o":53.42,"b":53.46,"g":53.29},
{"t":"2017-03-19T01:00","o":53.44,"b":53.49,"g":53.32},
{"t":"2017-03-19T02:00","o":53.08,"b":52.94,"g":53.02},
{"t":"2017-03-19T06:00","o":53.03,"b":52.91,"g":53.0},
{"t":"2017-03-19T08:00","o":53.33,"b":53.34,"g":53.19},
{"t":"2017-03-19T14:00","o":53.39,"b":53.43,"g":53.26},
{"t":"2017-03-20T01:00","o":53.41,"b":53.46,"g":53.29},
{"t":"2017-03-20T02:00","o":53.06,"b":52.92,"g":53.0},
{"t":"2017-03-20T06:00","o":53.01,"b":52.89,"g":52.98},
{"t":"2017-03-20T08:00","o":53.32,"b":53.33,"g":53.18},
{"t":"2017-03-20T14:00","o":53.38,"b":53.42,"g":53.25},
{"t":"2017-03-21T01:00","o":53.4,"b":53.45,"g":53.28},
{"t":"2017-03-21T02:00","o":53.04,"b":52.9,"g":52.98},
{"t":"2017-03-21T06:00","o":52.99,"b":52.87,"g":52.96},
{"t":"2017-03-21T08:00","o":53.34,"b":53.35,"g":53.2},
{"t":"2017-03-21T14:00","o":53.4,"b":53.44,"g":53.27},
{"t":"2017-03-22T01:00","o":53.42,"b":53.47,"g":53.3},
{"t":"2017-03-22T02:00","o":53.07,"b":52.93,"g":53.01},
{"t":"2017-03-22T06:00","o":53.02,"b":52.9,"g":52.99},
{"t":"2017-03-22T08:00","o":53.34,"b":53.35,"g":53.2},
{"t":"2017-03-22T14:00","o":53.4,"b":53.44,"g":53.27},
{"t":"2017-03-23T01:00","o":53.42,"b":53.47,"g":53.3},
{"t":"2017-03-23T02:00","o":53.09,"b":52.95,"g":53.03},
{"t":"2017-03-23T06:00","o":53.04,"b":52.92,"g":53.01},
{"t":"2017-03-23T08:00","o":53.35,"b":53.36,"g":53.21},
{"t":"2017-03-23T14:00","o":53.41,"b":53.45,"g":53.28},
{"t":"2017-03-23T22:00","o":53.43,"b":53.48,"g":53.31},
{"t":"2017-03-23T23:00","g":53.04}
]},
"encoding": {
  "x": {"field": "t", "type": "temporal", "title": null,
    "scale": {"domain": [{"year": 2016, "month": 12, "date": 8}, {"year": 2017, "month": 3, "date": 24}]},
    "axis": {"values": [
      {"year": 2016, "month": 12, "date": 8}, {"year": 2016, "month": 12, "date": 18}, {"year": 2016, "month": 12, "date": 28},
      {"year": 2017, "month": 1, "date": 7}, {"year": 2017, "month": 1, "date": 17}, {"year": 2017, "month": 1, "date": 27},
      {"year": 2017, "month": 2, "date": 6}, {"year": 2017, "month": 2, "date": 16}, {"year": 2017, "month": 2, "date": 26},
      {"year": 2017, "month": 3, "date": 8}, {"year": 2017, "month": 3, "date": 18}],
      "format": "%-d/%-m/%y %-H:%M", "labelFont": "Lato", "labelFontSize": 16, "labelColor": "#595959",
      "ticks": false, "tickSize": 0, "labelPadding": 13, "grid": true, "gridColor": "#D9D9D9", "gridWidth": 1,
      "domainColor": "#BFBFBF", "domainWidth": 1, "labelOverlap": false, "labelFlush": false, "labelBound": false}},
  "y": {"field": "v", "type": "quantitative", "title": "Niveau piézométrique (m NGF)",
    "scale": {"domain": [51, 54], "nice": false, "zero": false},
    "axis": {"values": [51, 51.5, 52, 52.5, 53, 53.5, 54],
      "labelExpr": "replace(toString(datum.value), '.', ',')",
      "labelFont": "Lato", "labelFontSize": 16, "labelColor": "#595959",
      "ticks": false, "tickSize": 0, "labelPadding": 17, "grid": true, "gridColor": "#D9D9D9", "gridWidth": 1,
      "domainColor": "#D9D9D9", "titleFont": "Lato", "titleFontSize": 17, "titleFontWeight": "normal",
      "titleColor": "#595959", "titlePadding": 7}}
},
"layer": [
  {
    "data": {"name": "n"},
    "transform": [{"fold": ["o", "b", "g", "y"], "as": ["s", "v"]}, {"filter": "isValid(datum.v)"}],
    "encoding": {
      "color": {"field": "s", "type": "nominal",
        "scale": {"domain": ["o", "b", "g", "y"], "range": ["#ED7D31", "#5B9BD5", "#A5A5A5", "#FFC000"]},
        "legend": {"title": null, "orient": "none", "legendX": 935, "legendY": 340, "direction": "vertical",
          "fillColor": "#F2F2F2", "padding": 0, "symbolType": "stroke", "symbolSize": 1560, "symbolOffset": 8,
          "clipHeight": 33, "rowPadding": 0,
          "labelFont": "Lato", "labelFontSize": 16.5, "labelColor": "#404040", "labelLimit": 340, "labelOffset": 0,
          "labelExpr": "(datum.label == 'o' ? 'Niveau piézométrique PZ2' : datum.label == 'b' ? 'Niveau piézométrique PZ1' : datum.label == 'g' ? 'Niveau piézométrique PZ3' : 'Niveau piézométrique Basse Terne') + '   '"}},
      "strokeWidth": {"field": "s", "type": "nominal",
        "scale": {"domain": ["o", "b", "g", "y"], "range": [1.6, 3.5, 3.5, 3.5]}}
    },
    "layer": [
      {"transform": [{"filter": "datum.s === 'o'"}], "mark": {"type": "line", "strokeJoin": "round"}},
      {"transform": [{"filter": "datum.s === 'b'"}], "mark": {"type": "line", "strokeJoin": "round"}},
      {"transform": [{"filter": "datum.s === 'g'"}], "mark": {"type": "line", "strokeJoin": "round"}},
      {"transform": [{"filter": "datum.s === 'y'"}], "mark": {"type": "line", "strokeJoin": "round"}}
    ]
  },
  {
    "data": {"values": [{"t": "2017-01-09T21:20", "v": 53.574, "t2": "2017-01-07T10:20", "v2": 53.221}]},
    "mark": {"type": "rule", "color": "black", "strokeWidth": 4},
    "encoding": {"x2": {"field": "t2"}, "y2": {"field": "v2"}}
  },
  {
    "data": {"values": [{"t": "2017-01-07T10:20", "v": 53.221}]},
    "mark": {"type": "point", "shape": "M0,-1.4L0.8,1L-0.8,1Z", "angle": 204, "filled": true, "size": 196, "color": "black", "opacity": 1}
  },
  {
    "data": {"values": [{"t": "2017-01-10T21:20", "v": 53.527, "label": "Pompage d’essai étiage"}]},
    "mark": {"type": "text", "font": "Lato", "fontWeight": "bold", "fontSize": 25, "align": "left", "baseline": "alphabetic", "color": "black"},
    "encoding": {"text": {"field": "label"}}
  }
]
}
